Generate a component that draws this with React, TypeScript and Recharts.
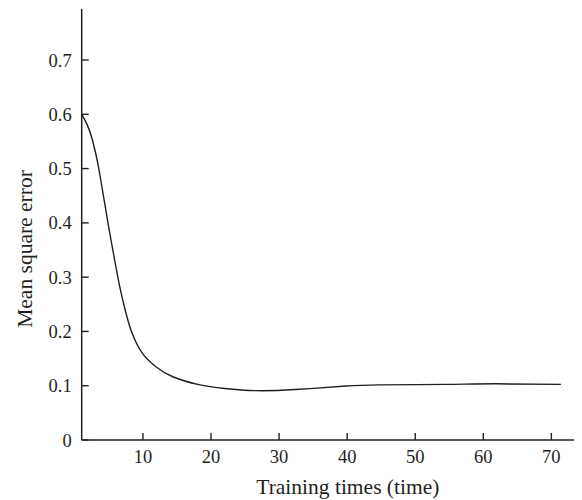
import React from 'react';
import { LineChart, Line, XAxis, YAxis, Label } from 'recharts';

const trainingTimes = [1, 1.8, 2.5, 3, 3.5, 4, 4.5, 5, 5.5, 6, 6.7, 7.5, 8.4, 9.9, 11.9, 14.3, 18.2, 22, 26.5, 32.4, 39.8, 44.7, 54.5, 61.8, 71.4];
const mseValues = [0.6, 0.581, 0.556, 0.531, 0.501, 0.464, 0.427, 0.39, 0.355, 0.321, 0.276, 0.234, 0.197, 0.16, 0.135, 0.117, 0.102, 0.095, 0.091, 0.093, 0.0994, 0.1015, 0.1025, 0.1035, 0.1024];
const xTicks = [10, 20, 30, 40, 50, 60, 70];
const yTicks = [0, 0.1, 0.2, 0.3, 0.4, 0.5, 0.6, 0.7];

const data = trainingTimes.map((t, i) => ({ t, mse: mseValues[i] }));

const INK = '#231f20';
const FONT = '"Liberation Serif", "Times New Roman", serif';

const XTick = (props: any) => {
  const { x, y, payload } = props;
  return (
    <g>
      <line x1={x} y1={y} x2={x} y2={y - 7} stroke={INK} strokeWidth={1.4} />
      <text x={x} y={y + 23} textAnchor="middle" fill={INK} fontSize={18.5} fontFamily={FONT}>
        {payload.value}
      </text>
    </g>
  );
};

const YTick = (props: any) => {
  const { x, y, payload } = props;
  return (
    <g>
      <line x1={x} y1={y} x2={x + 7} y2={y} stroke={INK} strokeWidth={1.4} />
      <text x={x - 10} y={y + 6.5} textAnchor="end" fill={INK} fontSize={18.5} fontFamily={FONT}>
        {payload.value}
      </text>
    </g>
  );
};

const XTitle = (props: any) => {
  const vb = props.viewBox || {};
  const cx = vb.x + vb.width / 2 + 16;
  const cy = vb.y + 54;
  return (
    <text x={cx} y={cy} textAnchor="middle" fill={INK} fontSize={21.5} fontFamily={FONT}>
      Training times (time)
    </text>
  );
};

const YTitle = (props: any) => {
  const vb = props.viewBox || {};
  const cx = 23.7;
  const cy = vb.y + vb.height / 2 + 24.5;
  return (
    <text x={cx} y={cy} textAnchor="middle" fill={INK} fontSize={21.5} fontFamily={FONT} transform={`rotate(-90, ${cx}, ${cy})`}>
      Mean square error
    </text>
  );
};

export default function App() {
  return (
    <div style={{ width: 574, height: 492 }}>
      <LineChart width={574} height={492} data={data} margin={{ top: 1, right: 0, left: 0, bottom: 0 }}>
        <XAxis
          dataKey="t"
          type="number"
          domain={[1, 74.5]}
          ticks={xTicks}
          allowDataOverflow
          height={60}
          tickSize={0}
          tickMargin={0}
          tickLine={false}
          axisLine={{ stroke: INK, strokeWidth: 1.5 }}
          tick={<XTick />}
          interval={0}
        >
          <Label content={<XTitle />} />
        </XAxis>
        <YAxis
          type="number"
          domain={[0, 0.794]}
          ticks={yTicks}
          allowDataOverflow
          width={73.7}
          tickSize={0}
          tickMargin={0}
          tickLine={false}
          axisLine={{ stroke: INK, strokeWidth: 1.5 }}
          tick={<YTick />}
          interval={0}
        >
          <Label content={<YTitle />} />
        </YAxis>
        <Line
          type="natural"
          dataKey="mse"
          stroke={INK}
          strokeWidth={1.4}
          dot={false}
          activeDot={false}
          isAnimationActive={false}
        />
      </LineChart>
    </div>
  );
}
